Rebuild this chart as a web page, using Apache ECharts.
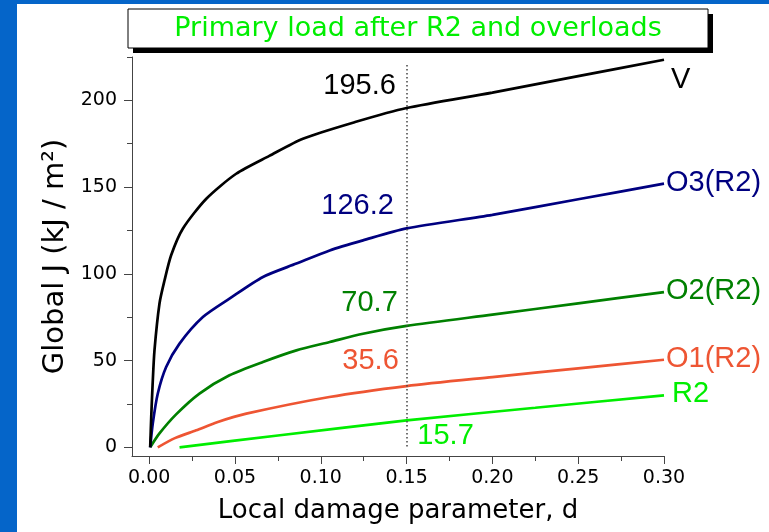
<!DOCTYPE html>
<html>
<head>
<meta charset="utf-8">
<script src="https://cdn.jsdelivr.net/npm/echarts@6/dist/echarts.min.js"></script>
<style>
  html, body { margin: 0; padding: 0; background: #fff; }
</style>
</head>
<body>
<div id="main" style="width: 769px; height: 532px;"></div>
<script>
// curves: local damage d -> global J (kJ/m2)
var dV  = [0.0006, 0.0012, 0.002, 0.0031, 0.006, 0.0089, 0.0128, 0.0196, 0.0333, 0.0507, 0.07, 0.0896, 0.12, 0.15, 0.2, 0.25, 0.3];
var jV  = [0, 17.5, 36, 55.9, 82.8, 96, 110.7, 126, 143.3, 157.7, 168, 177.9, 187.5, 195.6, 204.5, 214, 223.4];

var dO3 = [0.0006, 0.0021, 0.005, 0.0099, 0.0177, 0.0313, 0.0468, 0.0663, 0.0858, 0.1052, 0.1246, 0.15, 0.2, 0.25, 0.3];
var jO3 = [0, 13.7, 30.9, 46.3, 59.8, 75.1, 85.7, 98.2, 105.9, 113.5, 119.3, 126.2, 134, 143, 152];

var dO2 = [0.0006, 0.006, 0.0157, 0.0293, 0.0468, 0.0663, 0.0858, 0.1052, 0.1246, 0.15, 0.2, 0.25, 0.3];
var jO2 = [0, 8, 19, 31, 41.5, 49.2, 55.9, 60.7, 65.5, 70, 76.5, 83, 89.5];

var dO1 = [0.005, 0.015, 0.0274, 0.04, 0.0566, 0.105, 0.15, 0.2, 0.25, 0.3];
var jO1 = [0, 5.3, 9.8, 14.6, 19.4, 29, 35.3, 40.5, 45.5, 50.5];

var dR2 = [0.0177, 0.075, 0.15, 0.225, 0.3];
var jR2 = [0, 6.8, 15.5, 22.8, 30];

// values written at d = 0.15
var markD = 0.15;
var markV = [195.6, 126.2, 70.7, 35.6, 15.7];

var names  = ["V", "O3(R2)", "O2(R2)", "O1(R2)", "R2"];
var colors = ["#000000", "#000080", "#008000", "#ee5533", "#00ee00"];

var xTicks = [0, 0.05, 0.10, 0.15, 0.20, 0.25, 0.30];
var xMinor = [0.025, 0.075, 0.125, 0.175, 0.225, 0.275];
var yTicks = [0, 50, 100, 150, 200];
var yMinor = [25, 75, 125, 175, 225];

function pairs(d, j) {
  return d.map(function (x, i) { return [x, j[i]]; });
}

var allD = [dV, dO3, dO2, dO1, dR2];
var allJ = [jV, jO3, jO2, jO1, jR2];

// label offsets (px) for the value at d=0.15 and the name at the end
var valOff = [[-47, -22], [-49, -22], [-37, -22], [-36, -25], [39, 16]];
var endOff = [[7, 20], [2, -1], [2, -1], [2, -1], [8, -1]];

var axisColor = "#444";
var tickFont = { fontSize: 19, fontFamily: "DejaVu Sans", color: "#000" };

var series = allD.map(function (d, i) {
  var j = allJ[i];
  var s = {
    type: "line",
    name: names[i],
    data: pairs(d, j),
    showSymbol: false,
    smooth: 0.25,
    lineStyle: { color: colors[i], width: 2.7 },
    itemStyle: { color: colors[i] },
    z: 5 - i,
    markPoint: {
      symbol: "circle",
      symbolSize: 0,
      silent: true,
      data: [
        {
          coord: [markD, markV[i]],
          label: {
            show: true, position: "inside", offset: valOff[i],
            formatter: String(markV[i].toFixed(1)),
            color: colors[i], fontSize: 29, fontFamily: "Liberation Sans"
          }
        },
        {
          coord: [d[d.length - 1], j[j.length - 1]],
          label: {
            show: true, position: "right", distance: 0, offset: endOff[i],
            formatter: names[i],
            color: colors[i], fontSize: 29, fontFamily: "Liberation Sans"
          }
        }
      ]
    }
  };
  if (i === 0) {
    // dotted line at d = 0.15
    s.markLine = {
      symbol: ["none", "none"],
      silent: true,
      label: { show: false },
      lineStyle: { type: [1.5, 2.5], color: "#444", width: 1.5 },
      data: [[{ coord: [markD, 0.5] }, { coord: [markD, 221.5] }]]
    };
  }
  return s;
});

var myChart = echarts.init(document.getElementById("main"));
var option = {
  backgroundColor: "#ffffff",
  animation: false,
  graphic: [
    { type: "rect", shape: { x: 0, y: 0, width: 17, height: 532 }, style: { fill: "#0565c9" }, z: 0 },
    { type: "rect", shape: { x: 0, y: 0, width: 769, height: 4 }, style: { fill: "#0565c9" }, z: 0 },
    { type: "rect", shape: { x: 133, y: 14, width: 580, height: 39 }, style: { fill: "#000" }, z: 10 },
    { type: "rect", shape: { x: 128, y: 9, width: 580, height: 39 }, style: { fill: "#fff", stroke: "#000", lineWidth: 1 }, z: 11 },
    {
      type: "text", x: 418, y: 29, z: 12,
      style: {
        text: "Primary load after R2 and overloads",
        fill: "#00ee00", font: "27px 'DejaVu Sans'",
        textAlign: "center", textVerticalAlign: "middle"
      }
    }
  ],
  grid: { left: 132, right: 105, top: 57, bottom: 76, containLabel: false },
  xAxis: [
    {
      type: "value", min: -0.01, max: 0.3,
      name: "Local damage parameter, d",
      nameLocation: "middle", nameGap: 42,
      nameTextStyle: { fontSize: 26, fontFamily: "DejaVu Sans", color: "#000" },
      axisLine: { show: true, onZero: false, lineStyle: { color: axisColor, width: 1 } },
      axisTick: { show: true, customValues: xTicks, length: 8, lineStyle: { color: axisColor } },
      axisLabel: Object.assign({ customValues: xTicks, margin: 13, formatter: function (v) { return v.toFixed(2); } }, tickFont),
      splitLine: { show: false }
    },
    {
      type: "value", min: -0.01, max: 0.3, position: "bottom",
      axisLine: { show: false, onZero: false },
      axisTick: { show: true, customValues: xMinor, length: 5, lineStyle: { color: axisColor } },
      axisLabel: { show: false },
      splitLine: { show: false }
    }
  ],
  yAxis: [
    {
      type: "value", min: -5, max: 225,
      name: "Global J (kJ / m²)",
      nameLocation: "middle", nameGap: 54, nameRotate: 90,
      nameTextStyle: { fontSize: 29, fontFamily: "DejaVu Sans", color: "#000" },
      axisLine: { show: true, onZero: false, lineStyle: { color: axisColor, width: 1 } },
      axisTick: { show: true, customValues: yTicks, length: 8, lineStyle: { color: axisColor } },
      axisLabel: Object.assign({ customValues: yTicks, margin: 15 }, tickFont),
      splitLine: { show: false }
    },
    {
      type: "value", min: -5, max: 225, position: "left",
      axisLine: { show: false, onZero: false },
      axisTick: { show: true, customValues: yMinor, length: 5, lineStyle: { color: axisColor } },
      axisLabel: { show: false },
      splitLine: { show: false }
    }
  ],
  series: series
};
myChart.setOption(option);
</script>
</body>
</html>
